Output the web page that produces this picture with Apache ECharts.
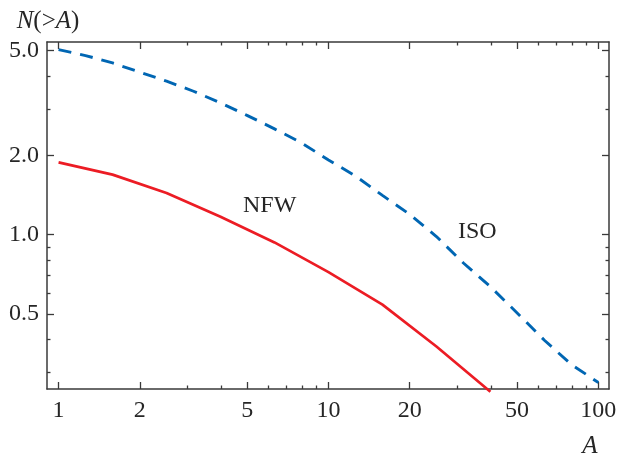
<!DOCTYPE html>
<html><head><meta charset="utf-8">
<script src="https://cdn.jsdelivr.net/npm/echarts@6/dist/echarts.min.js"></script>
<style>html,body{margin:0;padding:0;background:#fff}#c{width:632px;height:459px}</style>
</head><body><div id="c"></div>
<script>
// ---- data ----
const nfwA = [1, 1.585, 2.512, 3.981, 6.31, 10, 15.85, 25.12, 39.81];
const nfw = [1.88, 1.69, 1.44, 1.17, 0.935, 0.721, 0.543, 0.377, 0.254];
const isoA = [1, 1.259, 1.585, 1.995, 2.512, 3.162, 3.981, 5.012, 6.31, 7.943, 10,
              12.59, 15.85, 19.95, 25.12, 31.62, 39.81, 50.12, 63.1, 79.43, 100];
const iso = [5.03, 4.78, 4.48, 4.14, 3.82, 3.50, 3.16, 2.83, 2.52, 2.23, 1.92,
             1.67, 1.41, 1.196, 0.984, 0.781, 0.635, 0.504, 0.398, 0.322, 0.275];
const xMajor = [1, 2, 5, 10, 20, 50, 100];
const xMajorLabels = ['1', '2', '5', '10', '20', '50', '100'];
const xMinor = [3, 4, 6, 7, 8, 9, 30, 40, 60, 70, 80, 90];
const yMajor = [0.5, 1, 2, 5];
const yMajorLabels = ['0.5', '1.0', '2.0', '5.0'];
const yMinor = [0.3, 0.4, 0.6, 0.7, 0.8, 0.9, 3, 4];
const xRange = [0.906, 109.5];
const yRange = [0.26, 5.38];

const lg = Math.log10;
const FONT = '"Liberation Serif", "DejaVu Serif", serif';
const AX = '#3a3a3a';
const TXT = '#262626';

function fmt(ticks, labels) {
  return function (v) {
    const i = ticks.findIndex(t => Math.abs(lg(t) - v) < 1e-6);
    return i >= 0 ? labels[i] : '';
  };
}

function makeAxis(dim, pos, ticks, len, withLine, labels) {
  const range = dim === 'x' ? xRange : yRange;
  return {
    type: 'value', position: pos,
    min: lg(range[0]), max: lg(range[1]),
    axisLine: { show: withLine, onZero: false, lineStyle: { color: AX, width: 1.5 } },
    axisTick: { show: true, inside: true, length: len, customValues: ticks.map(lg), lineStyle: { color: AX, width: 1.3 } },
    axisLabel: labels ? {
      show: true, customValues: ticks.map(lg), formatter: fmt(ticks, labels),
      fontFamily: FONT, fontSize: 24, color: TXT, margin: 8,
      padding: dim === 'y' ? [7, 0, 0, 0] : [2, 0, 0, 0]
    } : { show: false },
    splitLine: { show: false },
    minorTick: { show: false }
  };
}

const chart = echarts.init(document.getElementById('c'), null, { renderer: 'canvas' });
chart.setOption({
  backgroundColor: '#fff',
  animation: false,
  grid: { left: 47, top: 42, right: 23, bottom: 70 },
  xAxis: [
    makeAxis('x', 'bottom', xMajor, 7, true, xMajorLabels),
    makeAxis('x', 'bottom', xMinor, 3.5, false, null),
    makeAxis('x', 'top', xMajor, 7, true, null),
    makeAxis('x', 'top', xMinor, 3.5, false, null)
  ],
  yAxis: [
    makeAxis('y', 'left', yMajor, 7, true, yMajorLabels),
    makeAxis('y', 'left', yMinor, 3.5, false, null),
    makeAxis('y', 'right', yMajor, 7, true, null),
    makeAxis('y', 'right', yMinor, 3.5, false, null)
  ],
  series: [
    {
      name: 'NFW', type: 'line', xAxisIndex: 0, yAxisIndex: 0,
      data: nfw.map((v, i) => [lg(nfwA[i]), lg(v)]),
      showSymbol: false, clip: false,
      lineStyle: { color: '#ec1c24', width: 2.7 }
    },
    {
      name: 'ISO', type: 'line', xAxisIndex: 0, yAxisIndex: 0,
      data: iso.map((v, i) => [lg(isoA[i]), lg(v)]),
      showSymbol: false, clip: false,
      lineStyle: { color: '#0066b3', width: 2.9, type: [13, 9] }
    }
  ],
  graphic: [
    { type: 'text', x: 48, y: 21, style: {
        text: '{i|N}(>{i|A})', align: 'center', verticalAlign: 'middle',
        font: '25px ' + FONT, fill: TXT,
        rich: { i: { fontStyle: 'italic', fontFamily: FONT, fontSize: 25, fill: TXT } }
      } },
    { type: 'text', x: 590, y: 446, style: {
        text: 'A', align: 'center', verticalAlign: 'middle',
        font: 'italic 25px ' + FONT, fill: TXT } },
    { type: 'text', x: 243, y: 206, style: {
        text: 'NFW', align: 'left', verticalAlign: 'middle',
        font: '24px ' + FONT, fill: TXT } },
    { type: 'text', x: 458, y: 232, style: {
        text: 'ISO', align: 'left', verticalAlign: 'middle',
        font: '24px ' + FONT, fill: TXT } }
  ]
});
</script>
</body></html>
